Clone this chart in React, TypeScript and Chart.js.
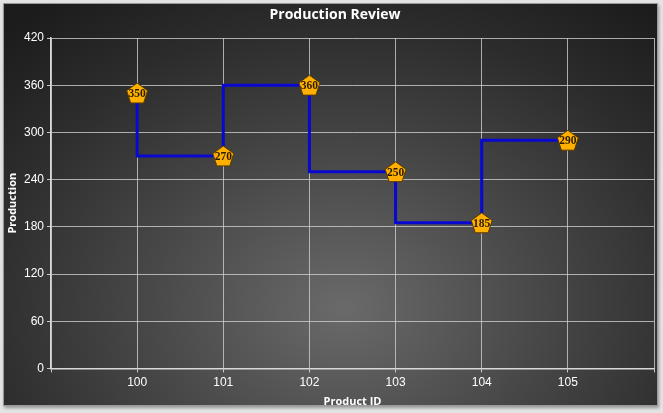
import React, { useEffect, useRef } from "react";
import { Chart, registerables } from "chart.js";

Chart.register(...registerables);

const productIds = [100, 101, 102, 103, 104, 105];
const production = [350, 270, 360, 250, 185, 290];
const yTicks = [0, 60, 120, 180, 240, 300, 360, 420];
const titleText = "Production Review";
const xTitle = "Product ID";
const yTitle = "Production";

const UI_FONT = "'Open Sans', 'DejaVu Sans', sans-serif";
const TICK_FONT = "'Liberation Sans', Arial, sans-serif";

const decorPlugin = {
  id: "decor",
  afterDatasetsDraw(chart: any) {
    const ctx = chart.ctx;
    const meta = chart.getDatasetMeta(0);
    meta.data.forEach((pt: any, i: number) => {
      const { x, y } = pt.getProps(["x", "y"], true);
      const r = 11;
      ctx.save();
      ctx.beginPath();
      for (let k = 0; k < 5; k++) {
        const a = -Math.PI / 2 + (k * 2 * Math.PI) / 5;
        const px = x + r * Math.cos(a);
        const py = y + 1 + r * Math.sin(a);
        if (k === 0) ctx.moveTo(px, py);
        else ctx.lineTo(px, py);
      }
      ctx.closePath();
      ctx.fillStyle = "#FFB000";
      ctx.fill();
      ctx.lineWidth = 1;
      ctx.strokeStyle = "#5c3a00";
      ctx.stroke();
      ctx.fillStyle = "#2a1c00";
      ctx.font = "bold 11.5px 'Liberation Serif', 'DejaVu Serif', serif";
      ctx.textAlign = "center";
      ctx.textBaseline = "middle";
      ctx.fillText(String(production[i]), x, y + 1);
      ctx.restore();
    });
  },
  afterDraw(chart: any) {
    const ctx = chart.ctx;
    ctx.save();
    ctx.fillStyle = "#ffffff";
    ctx.font = `bold 14px ${UI_FONT}`;
    ctx.textAlign = "center";
    ctx.textBaseline = "middle";
    ctx.fillText(titleText, 335, 15);
    ctx.restore();
  },
};

export default function App() {
  const ref = useRef<HTMLCanvasElement | null>(null);

  useEffect(() => {
    document.body.style.margin = "0";
    if (!ref.current) return;
    const chart = new Chart(ref.current, {
      type: "line",
      data: {
        datasets: [
          {
            data: productIds.map((x, i) => ({ x, y: production[i] })),
            stepped: "after",
            borderColor: "#0808d0",
            borderWidth: 3,
            pointRadius: 0,
            fill: false,
          },
        ],
      },
      options: {
        animation: false,
        responsive: false,
        maintainAspectRatio: false,
        layout: { padding: { left: 2, right: 9, top: 38, bottom: 1 } },
        plugins: {
          legend: { display: false },
          tooltip: { enabled: false },
          title: { display: false },
        },
        scales: {
          x: {
            type: "linear",
            min: 99,
            max: 106,
            ticks: {
              stepSize: 1,
              color: "#ffffff",
              font: { size: 12, family: TICK_FONT },
              callback: (v: any) =>
                productIds.includes(Number(v)) ? String(v) : "",
            },
            grid: {
              color: "rgba(205,205,205,0.8)",
              tickLength: 4,
              tickColor: "rgba(220,220,220,0.9)",
            },
            border: { color: "#d8d8d8", width: 1.5 },
            title: {
              display: true,
              text: xTitle,
              color: "#ffffff",
              font: { size: 11, weight: "bold", family: UI_FONT },
              padding: { top: 2, bottom: 4 },
            },
          },
          y: {
            min: yTicks[0],
            max: yTicks[yTicks.length - 1],
            afterBuildTicks: (axis: any) => {
              axis.ticks = yTicks.map((v) => ({ value: v }));
            },
            afterFit: (axis: any) => {
              axis.width = 49;
            },
            ticks: {
              color: "#ffffff",
              font: { size: 12, family: TICK_FONT },
            },
            grid: {
              color: "rgba(205,205,205,0.8)",
              tickLength: 4,
              tickColor: "rgba(220,220,220,0.9)",
            },
            border: { color: "#d8d8d8", width: 1.5 },
            title: {
              display: true,
              text: yTitle,
              color: "#ffffff",
              font: { size: 11, weight: "bold", family: UI_FONT },
              padding: { top: 4, bottom: 4 },
            },
          },
        },
      },
      plugins: [decorPlugin],
    } as any);
    return () => chart.destroy();
  }, []);

  return (
    <div
      style={{
        position: "fixed",
        left: 0,
        top: 0,
        width: 663,
        height: 413,
        background: "#e4e4e4",
      }}
    >
      <div
        style={{
          position: "absolute",
          left: 3,
          top: 3,
          width: 653,
          height: 401,
          border: "1px solid #9a9a9a",
          boxShadow: "1px 2px 3px rgba(0,0,0,0.35)",
          background:
            "radial-gradient(ellipse 75% 95% at 52% 76%, #6a6a6a 0%, #484848 40%, #2c2c2c 75%, #1c1c1c 100%)",
        }}
      />
      <canvas
        ref={ref}
        width={663}
        height={413}
        style={{ position: "absolute", left: 0, top: 0, width: 663, height: 413 }}
      />
    </div>
  );
}
